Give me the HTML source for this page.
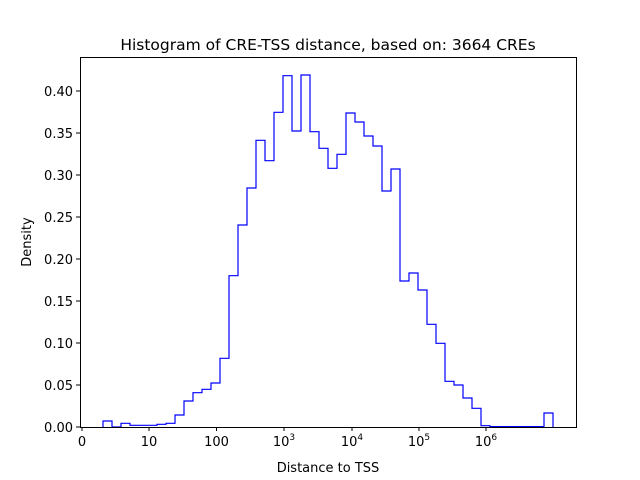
<!DOCTYPE html>
<html><head><meta charset="utf-8"><style>body{margin:0;background:#fff}svg{display:block}text{font-family:"DejaVu Sans","Liberation Sans",sans-serif;fill:#000}</style></head>
<body>
<svg width="640" height="480" viewBox="0 0 640 480" xmlns="http://www.w3.org/2000/svg">
<rect width="640" height="480" fill="#fff"/>
<path fill="none" stroke="#0000ff" stroke-width="1.2" d="M103,427.2 V421 H112 V427 H121 V423.3 H130 V425.3 H157 V424.3 H166 V423.3 H175 V415 H184 V401 H193 V392.7 H202 V389.3 H211 V383 H220 V358.3 H229 V275.7 H238 V225 H247 V188 H256 V140.3 H265 V160.7 H274 V112.3 H283 V75.7 H292 V131 H301 V75 H310 V131.7 H319 V148.3 H328 V168.3 H337 V154.3 H346 V113 H355 V122 H364 V136 H373 V146 H382 V191 H391 V169 H400 V281 H409 V273 H418 V290 H427 V324.3 H436 V343.3 H445 V381.3 H454 V385 H463 V398 H472 V408.3 H481 V425.7 H490 V426.6 H544 V413 H553 V427.2"/>
<rect x="80.5" y="57.5" width="496" height="370" fill="none" stroke="#000" stroke-width="1"/>
<g stroke="#000" stroke-width="1">
<line x1="82" y1="427" x2="82" y2="431"/><line x1="149" y1="427" x2="149" y2="431"/><line x1="216.5" y1="427" x2="216.5" y2="431"/><line x1="284" y1="427" x2="284" y2="431"/><line x1="352" y1="427" x2="352" y2="431"/><line x1="419" y1="427" x2="419" y2="431"/><line x1="486" y1="427" x2="486" y2="431"/>
<line x1="76" y1="427" x2="80" y2="427"/><line x1="76" y1="385" x2="80" y2="385"/><line x1="76" y1="343" x2="80" y2="343"/><line x1="76" y1="301" x2="80" y2="301"/><line x1="76" y1="259" x2="80" y2="259"/><line x1="76" y1="217" x2="80" y2="217"/><line x1="76" y1="175" x2="80" y2="175"/><line x1="76" y1="133" x2="80" y2="133"/><line x1="76" y1="91" x2="80" y2="91"/>
</g>
<g font-size="13" text-anchor="middle">
<text x="82" y="446">0</text><text x="149" y="446">10</text><text x="216.5" y="446">100</text>
<text x="284" y="446">10<tspan font-size="9" dy="-6">3</tspan></text>
<text x="352" y="446">10<tspan font-size="9" dy="-6">4</tspan></text>
<text x="419" y="446">10<tspan font-size="9" dy="-6">5</tspan></text>
<text x="486" y="446">10<tspan font-size="9" dy="-6">6</tspan></text>
</g>
<g font-size="13" text-anchor="end">
<text x="73" y="432">0.00</text><text x="73" y="390">0.05</text><text x="73" y="348">0.10</text><text x="73" y="306">0.15</text><text x="73" y="264">0.20</text><text x="73" y="222">0.25</text><text x="73" y="180">0.30</text><text x="73" y="138">0.35</text><text x="73" y="96">0.40</text>
</g>
<text x="328" y="472" font-size="13" text-anchor="middle">Distance to TSS</text>
<text transform="translate(31,242) rotate(-90)" font-size="13" text-anchor="middle">Density</text>
<text x="328" y="50" font-size="15.5" text-anchor="middle">Histogram of CRE-TSS distance, based on: 3664 CREs</text>
</svg>
</body></html>
